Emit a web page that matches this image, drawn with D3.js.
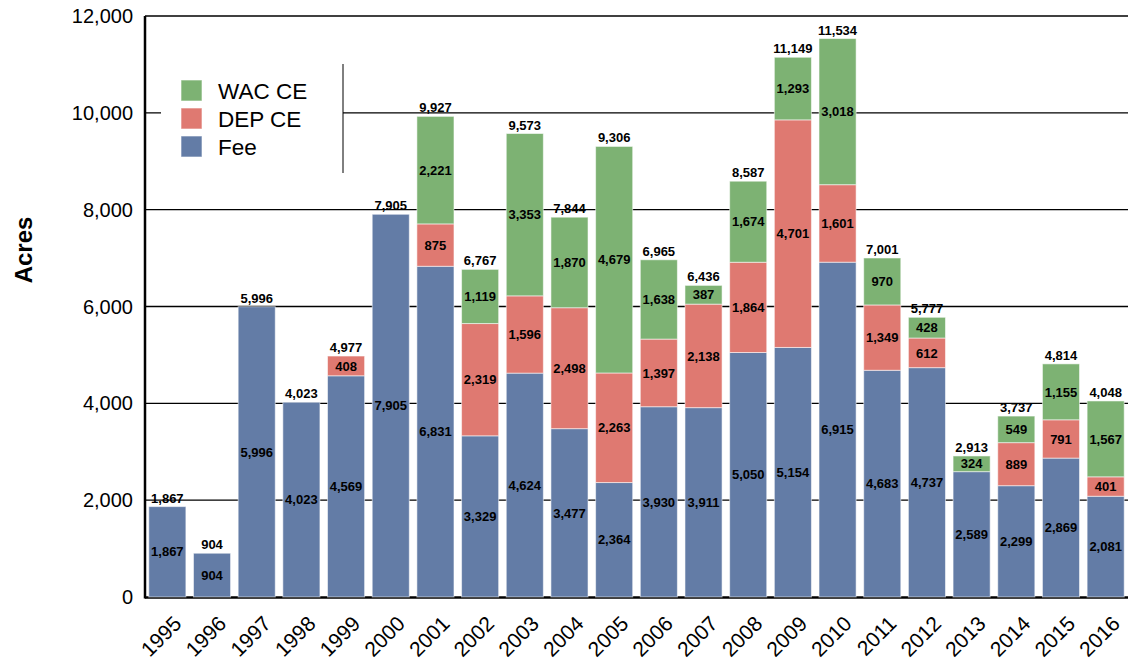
<!DOCTYPE html>
<html>
<head>
<meta charset="utf-8">
<script src="https://cdn.jsdelivr.net/npm/d3@7"></script>
<style>
  body { margin: 0; background: #fff; }
  svg { font-family: "Liberation Sans", Arial, sans-serif; }
</style>
</head>
<body>
<svg width="1128" height="666"></svg>
<script>

// DATA ––––––––––––––––––––––––––––––––––––––––––––––––––––––––––––––––
var years = ["1995","1996","1997","1998","1999","2000","2001","2002","2003","2004","2005",
             "2006","2007","2008","2009","2010","2011","2012","2013","2014","2015","2016"];
var fee   = [1867, 904, 5996, 4023, 4569, 7905, 6831, 3329, 4624, 3477, 2364,
             3930, 3911, 5050, 5154, 6915, 4683, 4737, 2589, 2299, 2869, 2081];
var depCE = [0, 0, 0, 0, 408, 0, 875, 2319, 1596, 2498, 2263,
             1397, 2138, 1864, 4701, 1601, 1349, 612, 0, 889, 791, 401];
var wacCE = [0, 0, 0, 0, 0, 0, 2221, 1119, 3353, 1870, 4679,
             1638, 387, 1674, 1293, 3018, 970, 428, 324, 549, 1155, 1567];
var totals = [1867, 904, 5996, 4023, 4977, 7905, 9927, 6767, 9573, 7844, 9306,
              6965, 6436, 8587, 11149, 11534, 7001, 5777, 2913, 3737, 4814, 4048];
var yTicks = [0, 2000, 4000, 6000, 8000, 10000, 12000];
var seriesNames = ["Fee", "DEP CE", "WAC CE"];
var colors = {"Fee": "#637ca6", "DEP CE": "#df7971", "WAC CE": "#7db273"};

// DRAW ––––––––––––––––––––––––––––––––––––––––––––––––––––––––––––––––
var svg = d3.select("svg");
var m = {left: 145, right: 1128, top: 16, bottom: 597};

var rows = years.map(function(yr, i) {
  return {year: yr, "Fee": fee[i], "DEP CE": depCE[i], "WAC CE": wacCE[i], total: totals[i]};
});

var x = d3.scaleBand().domain(years).range([m.left, m.right]).paddingInner(0.17).paddingOuter(0.085);
var y = d3.scaleLinear().domain([0, 12000]).range([m.bottom, m.top]);
var fmt = d3.format(",");

// gridlines
svg.append("g").selectAll("line")
  .data(yTicks.filter(function(t) { return t > 0; }))
  .join("line")
  .attr("x1", m.left).attr("x2", m.right)
  .attr("y1", function(d) { return y(d); }).attr("y2", function(d) { return y(d); })
  .attr("stroke", "#000").attr("stroke-width", 1.3);

// x axis baseline
svg.append("line")
  .attr("x1", m.left).attr("x2", m.right).attr("y1", m.bottom + 0.5).attr("y2", m.bottom + 0.5)
  .attr("stroke", "#000").attr("stroke-width", 2.5);

// stacked bars
var stack = d3.stack().keys(seriesNames)(rows);

var layers = svg.append("g").selectAll("g")
  .data(stack)
  .join("g")
  .attr("fill", function(d) { return colors[d.key]; });

layers.selectAll("rect")
  .data(function(d) { return d; })
  .join("rect")
  .attr("x", function(d) { return x(d.data.year); })
  .attr("width", x.bandwidth())
  .attr("y", function(d) { return y(d[1]); })
  .attr("height", function(d) { return y(d[0]) - y(d[1]); })
  .attr("stroke", "#ffffff").attr("stroke-opacity", 0.55).attr("stroke-width", 1);

// y axis line
svg.append("line")
  .attr("x1", m.left).attr("x2", m.left).attr("y1", m.top).attr("y2", m.bottom + 1.5)
  .attr("stroke", "#000").attr("stroke-width", 2.5);

// y tick labels
svg.append("g").selectAll("text")
  .data(yTicks)
  .join("text")
  .attr("x", 133)
  .attr("y", function(d) { return y(d); })
  .attr("dy", "0.35em")
  .attr("text-anchor", "end")
  .attr("font-size", 20)
  .text(function(d) { return fmt(d); });

// y title
svg.append("text")
  .attr("transform", "translate(32,250) rotate(-90)")
  .attr("text-anchor", "middle")
  .attr("font-size", 24)
  .attr("font-weight", "bold")
  .text("Acres");

// x labels
svg.append("g").selectAll("text")
  .data(years)
  .join("text")
  .attr("transform", function(d) {
    return "translate(" + (x(d) + x.bandwidth() / 2 + 15.5) + ",625) rotate(-45)";
  })
  .attr("text-anchor", "end")
  .attr("font-size", 21)
  .text(function(d) { return d; });

// segment labels
layers.selectAll("text")
  .data(function(d) { return d.filter(function(s) { return s[1] - s[0] > 0; }); })
  .join("text")
  .attr("x", function(d) { return x(d.data.year) + x.bandwidth() / 2; })
  .attr("y", function(d) { return (y(d[0]) + y(d[1])) / 2; })
  .attr("dy", "0.36em")
  .attr("text-anchor", "middle")
  .attr("font-size", 13)
  .attr("font-weight", "bold")
  .attr("fill", "#000")
  .text(function(d) { return fmt(d[1] - d[0]); });

// total labels
svg.append("g").selectAll("text")
  .data(rows)
  .join("text")
  .attr("x", function(d) { return x(d.year) + x.bandwidth() / 2; })
  .attr("y", function(d) { return y(d.total) - 4; })
  .attr("text-anchor", "middle")
  .attr("font-size", 13)
  .attr("font-weight", "bold")
  .text(function(d) { return fmt(d.total); });

// legend
var legend = svg.append("g");
legend.append("rect")
  .attr("x", 161).attr("y", 64).attr("width", 182).attr("height", 109)
  .attr("fill", "#fff");
legend.append("line")
  .attr("x1", 343).attr("x2", 343).attr("y1", 64).attr("y2", 173)
  .attr("stroke", "#000").attr("stroke-width", 1);

var legendItems = ["WAC CE", "DEP CE", "Fee"];
var li = legend.selectAll("g.item")
  .data(legendItems)
  .join("g")
  .attr("class", "item")
  .attr("transform", function(d, i) { return "translate(181," + (80 + i * 28) + ")"; });
li.append("rect")
  .attr("width", 21).attr("height", 21)
  .attr("fill", function(d) { return colors[d]; })
  .attr("stroke", "#fff").attr("stroke-opacity", 0.6);
li.append("text")
  .attr("x", 37).attr("y", 10.5).attr("dy", "0.36em")
  .attr("font-size", 22.5)
  .text(function(d) { return d; });

</script>
</body>
</html>
